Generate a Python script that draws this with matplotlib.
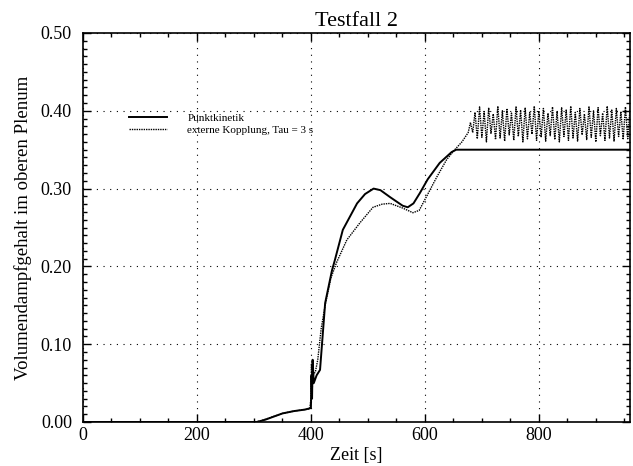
import numpy as np
import matplotlib
matplotlib.use("Agg")
from matplotlib import pyplot as plt
from matplotlib.ticker import MultipleLocator, FormatStrFormatter

# Punktkinetik (durchgezogen)
t_pk = [0, 305, 320, 335, 350, 370, 390, 400, 401, 402, 403, 405, 410, 416, 425, 437, 442,
        456, 481, 495, 510, 522, 539, 561, 570, 580, 591, 605, 626, 647, 655, 960]
v_pk = [0.0, 0.0, 0.003, 0.007, 0.011, 0.014, 0.016, 0.018, 0.06, 0.03, 0.08, 0.05, 0.06, 0.067,
        0.153, 0.195, 0.208, 0.247, 0.281, 0.293, 0.300, 0.298, 0.289, 0.278, 0.276, 0.281,
        0.294, 0.312, 0.333, 0.347, 0.350, 0.350]

# externe Kopplung, Tau = 3 s (punktiert)
t_ext = [0, 300, 310, 330, 350, 370, 398, 400, 401, 402, 404, 408, 412, 418, 425, 435, 445,
         463, 486, 509, 525, 539, 561, 579, 590, 603, 621, 638, 650, 665, 676]
v_ext = [0.0, 0.0, 0.001, 0.006, 0.011, 0.014, 0.017, 0.03, 0.075, 0.04, 0.06, 0.065, 0.08,
         0.12, 0.15, 0.185, 0.205, 0.234, 0.256, 0.276, 0.28, 0.281, 0.275, 0.269, 0.272,
         0.29, 0.315, 0.337, 0.348, 0.36, 0.372]

t_osc = np.arange(680, 964, 4)
v_osc = [0.385, 0.372, 0.398, 0.364, 0.405, 0.366, 0.399, 0.360, 0.404, 0.371,
         0.396, 0.363, 0.406, 0.365, 0.400, 0.361, 0.403, 0.369, 0.397, 0.362,
         0.405, 0.367, 0.401, 0.360, 0.404, 0.364, 0.398, 0.370, 0.406, 0.362,
         0.400, 0.366, 0.403, 0.361, 0.397, 0.368, 0.405, 0.363, 0.399, 0.360,
         0.404, 0.367, 0.401, 0.362, 0.406, 0.365, 0.398, 0.361, 0.403, 0.369,
         0.396, 0.363, 0.405, 0.366, 0.400, 0.360, 0.404, 0.368, 0.397, 0.362,
         0.406, 0.365, 0.401, 0.361, 0.403, 0.367, 0.399, 0.363, 0.405, 0.364,
         0.402]

plt.rcParams['font.family'] = ['Liberation Serif', 'DejaVu Serif']

fig = plt.figure(figsize=(6.33, 4.66), dpi=100)
ax = fig.add_axes([83/633, 44/466, 547/633, 389/466])

ax.plot(t_pk, v_pk, color="black", lw=1.4, label="Punktkinetik")
ax.plot(list(t_ext) + list(t_osc), v_ext + v_osc, color="black", lw=1.0, ls=(0, (1, 0.7)),
        label="externe Kopplung, Tau = 3 s")

ax.set_xlim(0, 960)
ax.set_ylim(0, 0.5)
ax.xaxis.set_major_locator(MultipleLocator(200))
ax.xaxis.set_minor_locator(MultipleLocator(50))
ax.yaxis.set_major_locator(MultipleLocator(0.1))
ax.yaxis.set_minor_locator(MultipleLocator(0.01))
ax.yaxis.set_major_formatter(FormatStrFormatter("%.2f"))
ax.tick_params(which="both", direction="in", top=True, right=True, labelsize=13, width=1)
ax.tick_params(which="major", length=6)
ax.tick_params(which="minor", length=3)
ax.tick_params(axis="y", pad=8)
for s in ax.spines.values():
    s.set_linewidth(1.2)

ax.grid(True, which="major", color="black", lw=0.8, ls=(0, (1, 5)))

ax.set_title("Testfall 2", fontsize=16, pad=5)
ax.set_xlabel("Zeit [s]", fontsize=13, labelpad=2)
ax.set_ylabel("Volumendampfgehalt im oberen Plenum", fontsize=13.5, labelpad=6)

ax.legend(loc="upper left", bbox_to_anchor=(0.065, 0.82), frameon=False, fontsize=8,
          handlelength=3.5, handletextpad=1.8, labelspacing=0.2)

fig.savefig("out.png", dpi=100)
